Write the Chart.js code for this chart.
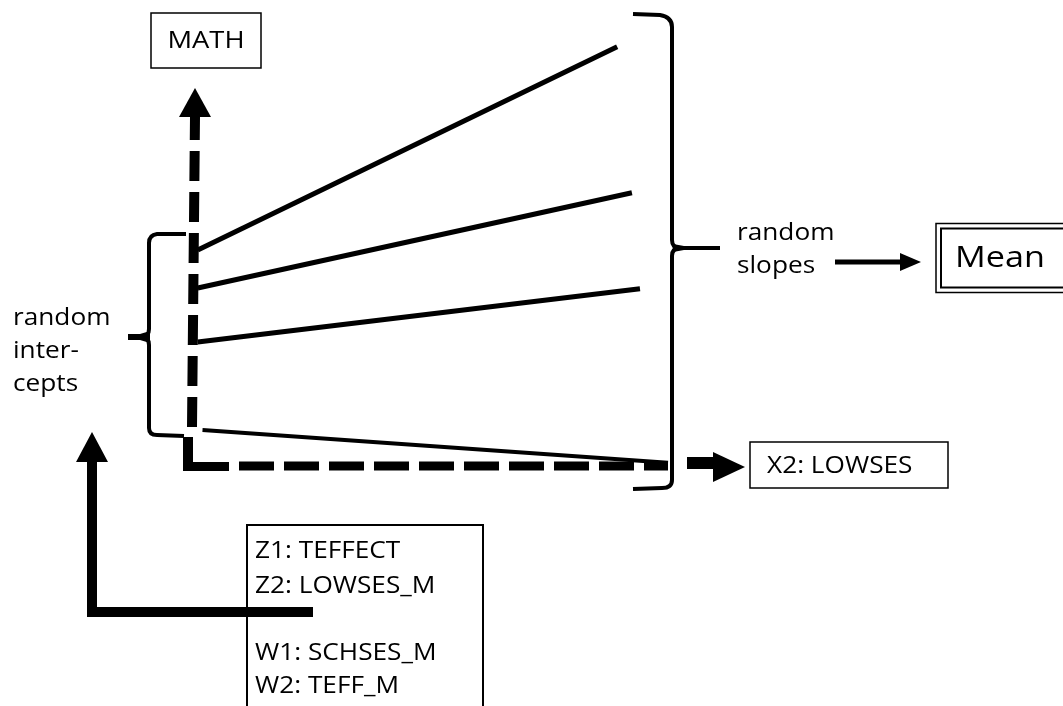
<!DOCTYPE html>
<html><head><meta charset="utf-8">
<script src="https://cdn.jsdelivr.net/npm/chart.js@4.4.1/dist/chart.umd.min.js"></script>
<style>html,body{margin:0;padding:0;background:#fff;overflow:hidden}canvas{display:block}</style>
</head><body>
<canvas id="c" width="1063" height="706"></canvas>
<script>
// Schools' regression lines of MATH on X2: LOWSES (diagram units)
const schools    = ['School 1', 'School 2', 'School 3', 'School 4'];
const lowsesFrom = [0.1, 0.1, 0.1, 0.2];
const mathFrom   = [5.4, 4.45, 3.1, 0.9];
const lowsesTo   = [8.93, 9.24, 9.41, 10.0];
const mathTo     = [10.48, 6.83, 4.43, 0.08];

// Texts of the diagram
const yAxisLabel = 'MATH';
const xAxisLabel = 'X2: LOWSES';
const meanLabel = 'Mean';
const slopeLabel = ['random', 'slopes'];
const interceptLabel = ['random', 'inter-', 'cepts'];
const level2Labels = ['Z1: TEFFECT', 'Z2: LOWSES_M', '', 'W1: SCHSES_M', 'W2: TEFF_M'];

const FONT = '"Open Sans", sans-serif';
const SX = 1.14;

function txt(ctx, s, x, y, size, align) {
  ctx.save();
  ctx.font = size + 'px ' + FONT;
  ctx.textBaseline = 'alphabetic';
  ctx.textAlign = 'left';
  const w = ctx.measureText(s).width * SX;
  const x0 = align === 'center' ? x - w / 2 : x;
  ctx.translate(x0, y); ctx.scale(SX, 1);
  ctx.fillStyle = '#000';
  ctx.fillText(s, 0, 0);
  ctx.restore();
}
function seg(ctx, x1, y1, x2, y2, w, dash) {
  ctx.save(); ctx.lineWidth = w; ctx.strokeStyle = '#000';
  ctx.setLineDash(dash || []); ctx.lineCap = 'butt';
  ctx.beginPath(); ctx.moveTo(x1, y1); ctx.lineTo(x2, y2); ctx.stroke();
  ctx.restore();
}
function poly(ctx, pts) {
  ctx.save(); ctx.beginPath(); ctx.moveTo(pts[0][0], pts[0][1]);
  for (let i = 1; i < pts.length; i++) ctx.lineTo(pts[i][0], pts[i][1]);
  ctx.closePath(); ctx.fillStyle = '#000'; ctx.fill(); ctx.restore();
}
function box(ctx, x, y, w, h, lw) {
  ctx.save(); ctx.lineWidth = lw; ctx.strokeStyle = '#000'; ctx.strokeRect(x, y, w, h); ctx.restore();
}

const diagram = {
  id: 'diagram',
  beforeDatasetsDraw(chart) {
    const ctx = chart.ctx;
    const xs = chart.scales.x, ys = chart.scales.y;
    const ox = xs.getPixelForValue(0) - 1, oy = ys.getPixelForValue(0);

    // vertical (MATH) dashed axis with arrow (slightly leaning, as drawn)
    seg(ctx, ox, oy - 39, ox + 3, 117, 10, [30, 11]);
    poly(ctx, [[ox + 3, 88], [ox + 19, 117], [ox - 13, 117]]);
    // corner
    poly(ctx, [[ox - 9, oy - 29], [ox + 1, oy - 29], [ox + 1, oy - 4], [ox + 37, oy - 4], [ox + 37, oy + 5], [ox - 9, oy + 5]]);
    // horizontal (LOWSES) dashed axis
    seg(ctx, ox + 47, oy, 668, oy, 9, [35, 10]);
    // arrow to X2 box
    seg(ctx, 687, oy - 3, 714, oy - 3, 12);
    poly(ctx, [[745, oy + 1], [713, oy - 14], [713, oy + 16]]);

    // right brace (random slopes)
    ctx.save(); ctx.lineWidth = 4; ctx.strokeStyle = '#000'; ctx.lineJoin = 'round';
    ctx.beginPath();
    ctx.moveTo(633, 14); ctx.lineTo(660, 15); ctx.quadraticCurveTo(672, 17, 672, 27);
    ctx.lineTo(672, 240); ctx.quadraticCurveTo(672, 248, 680, 248);
    ctx.quadraticCurveTo(672, 248, 672, 256);
    ctx.lineTo(672, 480); ctx.quadraticCurveTo(672, 488, 662, 488); ctx.lineTo(633, 489);
    ctx.stroke();
    ctx.restore();
    seg(ctx, 676, 248, 720, 248, 4);
    poly(ctx, [[673, 244], [684, 246], [684, 250], [673, 252]]);

    // left brace (random intercepts)
    ctx.save(); ctx.lineWidth = 4; ctx.strokeStyle = '#000'; ctx.lineJoin = 'round';
    ctx.beginPath();
    ctx.moveTo(186, 234); ctx.lineTo(157, 234); ctx.quadraticCurveTo(149, 235, 149, 243);
    ctx.lineTo(149, 329); ctx.quadraticCurveTo(149, 337, 141, 337);
    ctx.quadraticCurveTo(149, 337, 149, 345);
    ctx.lineTo(149, 428); ctx.quadraticCurveTo(149, 435, 157, 435); ctx.lineTo(184, 436);
    ctx.stroke();
    ctx.restore();
    seg(ctx, 128, 337, 146, 337, 6);
    poly(ctx, [[150, 331], [140, 334], [140, 340], [150, 343]]);

    // L-shaped arrow from level-2 box
    seg(ctx, 92, 617, 92, 460, 10);
    poly(ctx, [[92, 432], [108, 462], [76, 462]]);
    seg(ctx, 87, 612, 313, 612, 10);

    // boxes
    box(ctx, 151, 13, 110, 55, 1.5);
    box(ctx, 750, 442, 198, 46, 1.5);
    box(ctx, 936, 223.5, 140, 69, 1.5);
    box(ctx, 941, 228.5, 140, 59, 2);
    box(ctx, 247, 525, 236, 200, 2);

    // arrow slopes -> Mean
    seg(ctx, 835, 262, 902, 262, 5);
    poly(ctx, [[921, 262], [900, 253], [900, 271]]);

    // texts
    txt(ctx, yAxisLabel, 206, 48, 24, 'center');
    txt(ctx, xAxisLabel, 767, 473, 23);
    txt(ctx, meanLabel, 955, 267, 30);
    txt(ctx, slopeLabel[0], 737, 240, 23);
    txt(ctx, slopeLabel[1], 737, 273, 23);
    interceptLabel.forEach((s, i) => txt(ctx, s, 13, 325 + i * 33, 23));
    const base = [558, 593, 0, 660, 693];
    level2Labels.forEach((s, i) => { if (s) txt(ctx, s, 255, base[i], 23); });
  }
};

const datasets = schools.map((name, i) => ({
  label: name,
  data: [{ x: lowsesFrom[i], y: mathFrom[i] }, { x: lowsesTo[i], y: mathTo[i] }],
  showLine: true,
  borderColor: '#000',
  backgroundColor: '#000',
  borderWidth: i === 3 ? 4 : 5,
  pointRadius: 0,
  borderCapStyle: 'butt',
  fill: false
}));

new Chart(document.getElementById('c'), {
  type: 'scatter',
  data: { datasets },
  options: {
    responsive: false,
    animation: false,
    devicePixelRatio: 1,
    layout: { padding: 0 },
    plugins: { legend: { display: false }, tooltip: { enabled: false } },
    scales: {
      x: { type: 'linear', display: false, min: -193 / 47.5, max: (1063 - 193) / 47.5 },
      y: { type: 'linear', display: false, min: -6, max: 466 / 40 }
    }
  },
  plugins: [diagram]
});
</script>
</body></html>
